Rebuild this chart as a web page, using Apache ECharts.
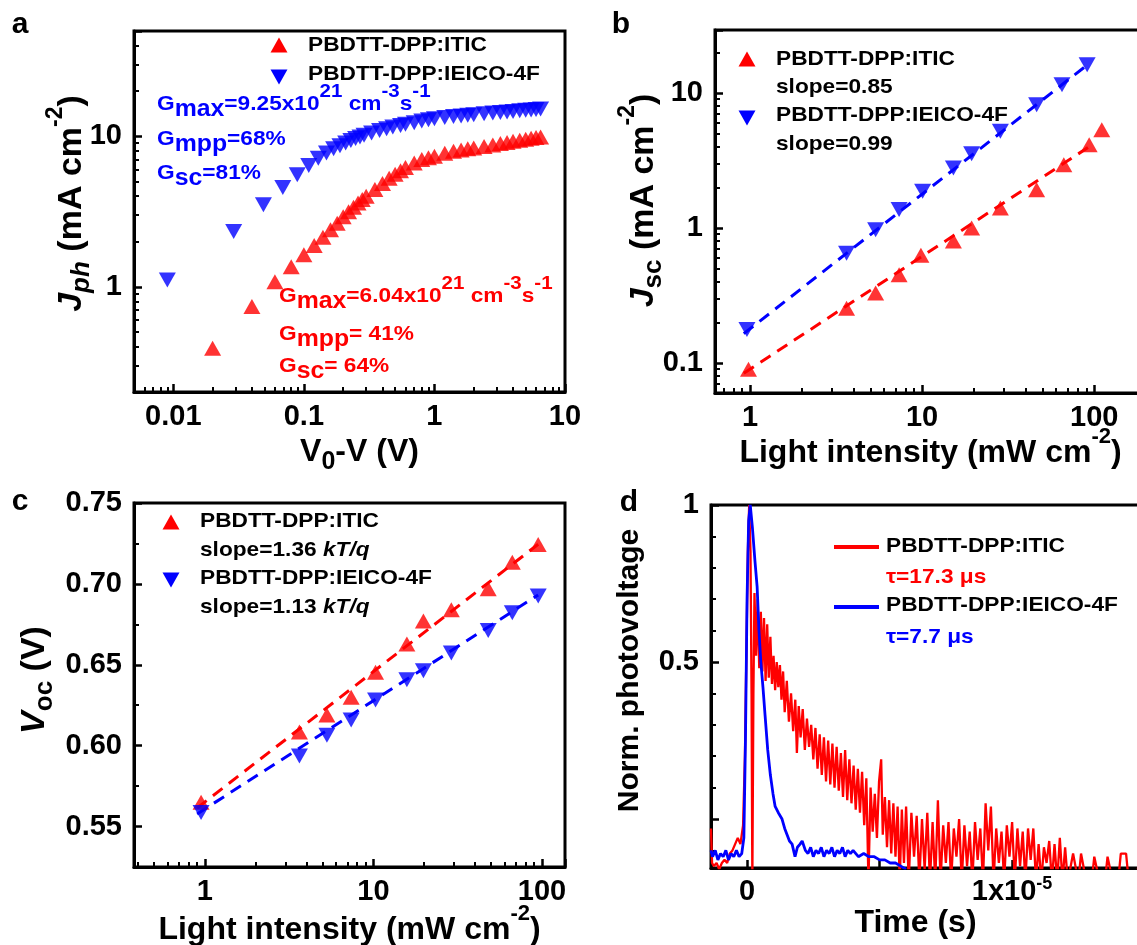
<!DOCTYPE html>
<html>
<head>
<meta charset="utf-8">
<title>PBDTT-DPP devices</title>
<script src="https://cdn.jsdelivr.net/npm/echarts@6/dist/echarts.min.js"></script>
<style>
html, body { margin: 0; padding: 0; background: #fff; }
#main { width: 1137px; height: 945px; }
</style>
</head>
<body>
<div id="main"></div>
<script>
// ---- panel a : Jph vs V0-V ----
var aVoltITIC = [0.02, 0.04, 0.06, 0.08, 0.10, 0.12, 0.14, 0.16, 0.18, 0.20, 0.22, 0.24, 0.26, 0.28, 0.30, 0.35, 0.40, 0.45, 0.50, 0.55,
    0.60, 0.70, 0.80, 0.90, 1.0, 1.2, 1.4, 1.6, 1.8, 2.0, 2.4, 2.8, 3.2, 3.6, 4.0, 4.5, 5.0, 5.5, 6.0, 6.5];
var aJphITIC = [0.39, 0.74, 1.08, 1.36, 1.63, 1.88, 2.13, 2.39, 2.64, 2.92, 3.15, 3.38, 3.6, 3.8, 4.0, 4.42, 4.85, 5.25, 5.6, 5.9,
    6.2, 6.65, 7.0, 7.2, 7.35, 7.7, 7.95, 8.1, 8.25, 8.35, 8.55, 8.75, 8.95, 9.1, 9.25, 9.4, 9.55, 9.7, 9.8, 9.9];
var aVoltIEICO = [0.009, 0.029, 0.049, 0.069, 0.089, 0.109, 0.129, 0.149, 0.169, 0.189, 0.209, 0.229, 0.249, 0.269, 0.289, 0.33, 0.38, 0.43, 0.48, 0.55,
    0.60, 0.70, 0.80, 0.90, 1.0, 1.2, 1.4, 1.6, 1.8, 2.0, 2.4, 2.8, 3.2, 3.6, 4.0, 4.5, 5.0, 5.5, 6.0, 6.5];
var aJphIEICO = [1.11, 2.33, 3.5, 4.57, 5.55, 6.4, 7.15, 7.75, 8.25, 8.65, 9.0, 9.35, 9.65, 9.9, 10.15, 10.5, 10.9, 11.2, 11.5, 11.8,
    12.0, 12.3, 12.6, 12.85, 13.05, 13.3, 13.5, 13.65, 13.8, 13.9, 14.1, 14.25, 14.4, 14.5, 14.6, 14.75, 14.85, 14.95, 15.05, 15.15];

// ---- panel b : Jsc vs light intensity ----
var bIntensityITIC = [0.98, 3.64, 5.37, 7.35, 9.84, 15.2, 19.4, 28.5, 46.3, 66.6, 93.5, 110.7];
var bJscITIC = [0.09, 0.255, 0.33, 0.45, 0.63, 0.80, 1.0, 1.41, 1.92, 2.94, 4.14, 5.35];
var bIntensityIEICO = [0.96, 3.64, 5.37, 7.35, 10.07, 15.2, 19.4, 28.5, 46.3, 65, 91];
var bJscIEICO = [0.177, 0.65, 0.97, 1.37, 1.87, 2.78, 3.55, 5.2, 8.2, 11.5, 16.2];
var bFitX = [0.92, 92];
var bFitITIC = [0.084, 3.95];
var bFitIEICO = [0.165, 16.3];

// ---- panel c : Voc vs light intensity ----
var cIntensity = [0.95, 3.64, 5.3, 7.38, 10.3, 15.8, 19.8, 29, 48, 66.7, 95];
var cVocITIC = [0.565, 0.6085, 0.619, 0.630, 0.6454, 0.6629, 0.677, 0.684, 0.697, 0.7133, 0.7243];
var cVocIEICO = [0.5587, 0.5936, 0.6064, 0.6158, 0.6282, 0.6407, 0.6463, 0.6573, 0.6712, 0.6822, 0.6925];
var cFitX = [0.9, 95];
var cFitITIC = [0.5615, 0.7245];
var cFitIEICO = [0.5578, 0.6932];

// ---- panel d : transient photovoltage (time in microseconds) ----
var dTimeITIC = [-1.36, -1.32, -1.25, -1.15, -1.05, -0.95, -0.85, -0.75, -0.65, -0.55, -0.45, -0.35, -0.25, -0.15, -0.08, -0.03,
    0.03, 0.08, 0.13, 0.17, 0.20, 0.24, 0.28, 0.34, 0.40, 0.46, 0.52, 0.58, 0.64, 0.70, 0.76, 0.82, 0.88, 0.94,
    1.00, 1.06, 1.12, 1.18, 1.24, 1.30, 1.36, 1.42, 1.50, 1.58, 1.66, 1.74, 1.82, 1.88, 1.95,
    2.02, 2.10, 2.18, 2.26, 2.34, 2.42, 2.50, 2.58, 2.66, 2.74, 2.82, 2.90, 2.98,
    3.06, 3.14, 3.22, 3.30, 3.38, 3.46, 3.54, 3.62, 3.70, 3.78, 3.86, 3.94,
    4.02, 4.10, 4.18, 4.26, 4.34, 4.42, 4.50, 4.58, 4.66, 4.74, 4.82, 4.90, 4.98,
    5.06, 5.12, 5.20, 5.28, 5.36, 5.44, 5.52, 5.60, 5.68, 5.76, 5.84, 5.92,
    6.00, 6.10, 6.20, 6.30, 6.40, 6.50, 6.60, 6.70, 6.80, 6.90, 7.00, 7.10, 7.20, 7.30, 7.40, 7.50, 7.60, 7.70, 7.80, 7.90,
    8.00, 8.10, 8.20, 8.30, 8.40, 8.50, 8.60, 8.70, 8.80, 8.90, 9.00, 9.10, 9.20, 9.30, 9.40, 9.50, 9.60, 9.70, 9.80, 9.90,
    10.00, 10.10, 10.20, 10.30, 10.40, 10.50, 10.60, 10.70, 10.80, 10.90, 11.00, 11.10, 11.20, 11.30, 11.40, 11.50, 11.60, 11.70, 11.80, 11.90,
    12.00, 12.10, 12.30, 12.50, 12.60, 12.80, 13.00, 13.10, 13.30, 13.50, 13.60, 13.80, 14.00, 14.10, 14.30, 14.40, 14.70, 14.80, 15.00];
var dVoltITIC = [-0.03, -0.14, -0.15, -0.14, -0.16, -0.14, -0.13, -0.14, -0.11, -0.10, -0.08, -0.06, -0.08, -0.02, 0.20, 0.50,
    0.85, 1.00, 0.85, 0.40, -0.20, 0.40, 0.72, 0.52, 0.70, 0.48, 0.66, 0.47, 0.64, 0.44, 0.62, 0.45, 0.58, 0.43,
    0.52, 0.41, 0.50, 0.42, 0.49, 0.38, 0.47, 0.34, 0.44, 0.31, 0.40, 0.28, 0.38, 0.21, 0.36,
    0.26, 0.35, 0.22, 0.32, 0.23, 0.30, 0.19, 0.29, 0.16, 0.27, 0.14, 0.26, 0.12,
    0.25, 0.11, 0.24, 0.10, 0.23, 0.09, 0.21, 0.07, 0.22, 0.06, 0.19, 0.05,
    0.17, 0.03, 0.16, 0.02, 0.15, -0.02, 0.13, -0.20, 0.10, -0.04, 0.08, -0.06, 0.12,
    0.19, -0.05, 0.07, -0.09, 0.06, -0.11, 0.05, -0.12, 0.04, -0.20, 0.03, -0.14,
    0.04, -0.20, 0.02, -0.12, 0.01, -0.20, 0.00, -0.16, 0.02, -0.20, -0.01, -0.20, 0.06, -0.20, -0.02, -0.14, -0.01, -0.20, -0.03, -0.12,
    0.00, -0.20, -0.02, -0.15, -0.04, -0.20, -0.01, -0.13, -0.03, -0.20, 0.05, -0.10, 0.04, -0.20, -0.03, -0.14, -0.04, -0.20, -0.02, -0.12,
    -0.01, -0.20, -0.03, -0.15, -0.04, -0.20, -0.03, -0.13, -0.03, -0.20, -0.08, -0.20, -0.09, -0.14, -0.07, -0.20, -0.08, -0.20, -0.06, -0.20,
    -0.09, -0.20, -0.11, -0.20, -0.11, -0.20, -0.20, -0.12, -0.20, -0.20, -0.12, -0.20, -0.20, -0.11, -0.11, -0.20, -0.20, -0.11, -0.11];
var dTimeIEICO = [-1.36, -1.30, -1.20, -1.10, -1.00, -0.90, -0.80, -0.70, -0.60, -0.50, -0.40, -0.30, -0.20, -0.12, -0.06,
    0.00, 0.06, 0.12, 0.20, 0.30, 0.38, 0.45, 0.52, 0.60, 0.68, 0.78, 0.88, 0.98, 1.06, 1.18, 1.32, 1.42, 1.51, 1.60, 1.70, 1.81, 1.90,
    2.00, 2.08, 2.20, 2.30, 2.40, 2.50, 2.60, 2.70, 2.80, 2.90, 3.00, 3.10, 3.20, 3.30, 3.40, 3.50, 3.60, 3.70, 3.80, 3.90,
    4.00, 4.20, 4.40, 4.60, 4.80, 5.00, 5.20, 5.40, 5.60, 5.80, 6.00];
var dVoltIEICO = [-0.10, -0.12, -0.10, -0.13, -0.11, -0.12, -0.10, -0.13, -0.11, -0.12, -0.10, -0.12, -0.11, -0.06, 0.25,
    0.70, 0.95, 1.00, 0.93, 0.82, 0.74, 0.60, 0.50, 0.42, 0.33, 0.22, 0.14, 0.08, 0.04, 0.02, 0.00, -0.03, -0.05, -0.07, -0.08, -0.12, -0.09,
    -0.08, -0.07, -0.10, -0.11, -0.09, -0.12, -0.10, -0.11, -0.09, -0.12, -0.10, -0.11, -0.09, -0.12, -0.10, -0.11, -0.09, -0.12, -0.10, -0.11,
    -0.10, -0.12, -0.11, -0.12, -0.12, -0.13, -0.13, -0.14, -0.14, -0.15, -0.16];

var RED = '#ff0000';
var BLUE = '#0000ff';
var FONT = 'Arial';
var STRETCH = 1.08;   // the figure's lettering is a bit wider than Arial

function pairs(xs, ys) {
    return xs.map(function (x, i) { return [x, ys[i]]; });
}

// only label the decades on log axes
function logFmt(v) {
    var e = Math.log10(v);
    var r = Math.round(e);
    if (Math.abs(e - r) > 1e-6) return '';
    return String(+Math.pow(10, r).toPrecision(3));
}

function makeNameRich(size) {
    var sub = Math.round(size * 0.77);
    var sup = Math.round(size * 0.68);
    return {
        n: { fontSize: size, fontWeight: 'bold', fontFamily: FONT, color: '#000', lineHeight: 44 },
        i: { fontSize: size, fontWeight: 'bold', fontStyle: 'italic', fontFamily: FONT, color: '#000', lineHeight: 44 },
        s: { fontSize: sub, fontWeight: 'bold', fontFamily: FONT, color: '#000', lineHeight: 24, height: 24, verticalAlign: 'bottom' },
        si: { fontSize: sub, fontWeight: 'bold', fontStyle: 'italic', fontFamily: FONT, color: '#000', lineHeight: 24, height: 24, verticalAlign: 'bottom' },
        p: { fontSize: sup, fontWeight: 'bold', fontFamily: FONT, color: '#000', lineHeight: 12, height: 12, verticalAlign: 'top' }
    };
}

function axis(grid, type, min, max, opts) {
    var a = {
        gridIndex: grid,
        type: type,
        min: min,
        max: max,
        name: opts.name,
        nameLocation: 'middle',
        nameGap: opts.gap,
        nameRotate: opts.rotate || 0,
        nameMoveOverlap: false,
        nameTextStyle: { rich: makeNameRich(opts.nameSize || 32), padding: opts.pad || 0 },
        axisLine: { show: true, onZero: false, lineStyle: { color: '#000', width: 3 } },
        axisTick: { show: true, inside: true, length: 8, lineStyle: { color: '#000', width: 2.5 } },
        axisLabel: {
            show: true, interval: 0, margin: opts.margin || 10, color: '#000',
            fontSize: 29, fontWeight: 'bold', fontFamily: FONT,
            formatter: opts.fmt || logFmt
        },
        splitLine: { show: false }
    };
    if (opts.splitNumber) a.splitNumber = opts.splitNumber;
    if (opts.minor) {
        a.minorTick = { show: true, splitNumber: opts.minor, length: 5, lineStyle: { color: '#000', width: 2 } };
    }
    if (opts.labelRich) {
        a.axisLabel.rich = opts.labelRich;
        a.axisLabel.lineHeight = 40;
    }
    return a;
}

function scatter(xi, xs, ys, color, down) {
    return {
        type: 'scatter', xAxisIndex: xi, yAxisIndex: xi,
        data: pairs(xs, ys),
        symbol: 'triangle', symbolSize: [17, 15], symbolRotate: down ? 180 : 0,
        itemStyle: { color: color }, z: 3
    };
}

function fitLine(xi, xs, ys, color) {
    return {
        type: 'line', xAxisIndex: xi, yAxisIndex: xi,
        data: pairs(xs, ys), symbol: 'none',
        lineStyle: { color: color, width: 3, type: [12, 8] }, z: 2
    };
}

// annotation text with sub- and superscripts
function annoRich(color) {
    return {
        m: { fontSize: 21, fontWeight: 'bold', fontFamily: FONT, fill: color, lineHeight: 33 },
        mi: { fontSize: 21, fontWeight: 'bold', fontStyle: 'italic', fontFamily: FONT, fill: color, lineHeight: 33 },
        s: { fontSize: 23, fontWeight: 'bold', fontFamily: FONT, fill: color, lineHeight: 21, height: 21, verticalAlign: 'bottom' },
        p: { fontSize: 19, fontWeight: 'bold', fontFamily: FONT, fill: color, lineHeight: 9, height: 9, verticalAlign: 'top' }
    };
}

function txt(x, y, text, color) {
    return {
        type: 'text', x: x, y: y, z: 10, scaleX: STRETCH,
        style: {
            text: text, rich: annoRich(color), fill: color,
            fontSize: 21, fontWeight: 'bold', fontFamily: FONT,
            align: 'left', verticalAlign: 'middle', textAlign: 'left', textVerticalAlign: 'middle'
        }
    };
}

function letter(x, y, t) {
    return {
        type: 'text', x: x, y: y, z: 10,
        style: {
            text: t, fill: '#000', fontSize: 30, fontWeight: 'bold', fontFamily: FONT,
            align: 'center', verticalAlign: 'middle', textAlign: 'center', textVerticalAlign: 'middle'
        }
    };
}

function tri(x, y, color, down) {
    var pts = down ? [[x - 8.5, y - 7.5], [x + 8.5, y - 7.5], [x, y + 7.5]]
                   : [[x - 8.5, y + 7.5], [x + 8.5, y + 7.5], [x, y - 7.5]];
    return { type: 'polygon', z: 10, shape: { points: pts }, style: { fill: color } };
}

function seg(x1, x2, y, color) {
    return { type: 'line', z: 10, shape: { x1: x1, y1: y, x2: x2, y2: y }, style: { stroke: color, lineWidth: 4 } };
}

var option = {
    animation: false,
    backgroundColor: '#fff',
    grid: [
        { left: 134, top: 31, width: 431, height: 361, show: true, borderColor: '#000', borderWidth: 3, outerBoundsMode: 'none' },
        { left: 715, top: 30, width: 431, height: 363, show: true, borderColor: '#000', borderWidth: 3, outerBoundsMode: 'none' },
        { left: 134, top: 503, width: 431, height: 364, show: true, borderColor: '#000', borderWidth: 3, outerBoundsMode: 'none' },
        { left: 711, top: 505, width: 431, height: 363, show: true, borderColor: '#000', borderWidth: 3, outerBoundsMode: 'none' }
    ],
    xAxis: [
        axis(0, 'log', 0.005, 10, { name: '{n|V}{s|0}{n|-V (V)}', gap: 38, pad: [0, 0, 0, 20], minor: 9 }),
        axis(1, 'log', 0.626, 200, { name: '{n|Light intensity (mW cm}{p|-2}{n|)}', gap: 38, minor: 9 }),
        axis(2, 'log', 0.38, 137, { name: '{n|Light intensity (mW cm}{p|-2}{n|)}', gap: 41, minor: 9 }),
        axis(3, 'value', -1.36, 14.9, {
            name: '{n|Time (s)}', gap: 33, pad: [0, 22, 0, 0], splitNumber: 3, margin: 4,
            labelRich: {
                n: { fontSize: 29, fontWeight: 'bold', fontFamily: FONT, color: '#000', lineHeight: 40 },
                p: { fontSize: 18, fontWeight: 'bold', fontFamily: FONT, color: '#000', lineHeight: 24, height: 24, verticalAlign: 'top' }
            },
            fmt: function (v) {
                if (Math.abs(v) < 1e-6) return '{n|0}';
                if (Math.abs(v - 10) < 1e-6) return '{n|1x10}{p|-5}';
                return '';
            }
        })
    ],
    yAxis: [
        axis(0, 'log', 0.2, 50, { name: '{i|J}{si|ph}{n| (mA cm}{p|-2}{n|)}', nameSize: 34, gap: 40, rotate: 90, pad: [0, 0, 0, 16], margin: 12, minor: 9 }),
        axis(1, 'log', 0.06, 29.3, { name: '{i|J}{s|sc}{n| (mA cm}{p|-2}{n|)}', nameSize: 34, gap: 49, rotate: 90, pad: [0, 0, 0, 22], margin: 12, minor: 9 }),
        axis(2, 'value', 0.525, 0.75, {
            name: '{i|V}{s|oc}{n| (V)}', nameSize: 34, gap: 77, rotate: 90, pad: [0, 0, 0, 10], margin: 12, splitNumber: 5, minor: 2,
            fmt: function (v) { return v < 0.53 ? '' : v.toFixed(2); }
        }),
        axis(3, 'value', -0.156, 1, {
            name: '{n|Norm. photovoltage}', nameSize: 30, gap: 59, rotate: 90, pad: [0, 0, 0, 32], margin: 12, splitNumber: 2, minor: 5,
            fmt: function (v) {
                if (Math.abs(v - 0.5) < 1e-6) return '0.5';
                if (Math.abs(v - 1) < 1e-6) return '1';
                return '';
            }
        })
    ],
    series: [
        scatter(0, aVoltIEICO, aJphIEICO, BLUE, true),
        scatter(0, aVoltITIC, aJphITIC, RED, false),

        fitLine(1, bFitX, bFitITIC, RED),
        fitLine(1, bFitX, bFitIEICO, BLUE),
        scatter(1, bIntensityITIC, bJscITIC, RED, false),
        scatter(1, bIntensityIEICO, bJscIEICO, BLUE, true),

        fitLine(2, cFitX, cFitITIC, RED),
        fitLine(2, cFitX, cFitIEICO, BLUE),
        scatter(2, cIntensity, cVocITIC, RED, false),
        scatter(2, cIntensity, cVocIEICO, BLUE, true),

        {
            type: 'line', xAxisIndex: 3, yAxisIndex: 3, data: pairs(dTimeITIC, dVoltITIC),
            symbol: 'none', clip: true, lineStyle: { color: RED, width: 2.3 }, z: 2
        },
        {
            type: 'line', xAxisIndex: 3, yAxisIndex: 3, data: pairs(dTimeIEICO, dVoltIEICO),
            symbol: 'none', clip: true, lineStyle: { color: BLUE, width: 2.8 }, z: 3
        }
    ],
    graphic: [
        letter(20, 25, 'a'), letter(621, 25, 'b'), letter(20, 502, 'c'), letter(629, 503, 'd'),

        // panel a
        tri(279, 45, RED, false), txt(308, 45, 'PBDTT-DPP:ITIC', '#000'),
        tri(279, 77, BLUE, true), txt(308, 74, 'PBDTT-DPP:IEICO-4F', '#000'),
        txt(157, 104, '{m|G}{s|max}{m|=9.25x10}{p|21}{m| cm}{p|-3}{m|s}{p|-1}', BLUE),
        txt(157, 139, '{m|G}{s|mpp}{m|=68%}', BLUE),
        txt(157, 173, '{m|G}{s|sc}{m|=81%}', BLUE),
        txt(279, 296, '{m|G}{s|max}{m|=6.04x10}{p|21}{m| cm}{p|-3}{m|s}{p|-1}', RED),
        txt(279, 334, '{m|G}{s|mpp}{m|= 41%}', RED),
        txt(279, 366, '{m|G}{s|sc}{m|= 64%}', RED),

        // panel b
        tri(747, 59, RED, false), txt(776, 59, 'PBDTT-DPP:ITIC', '#000'),
        txt(776, 87, 'slope=0.85', '#000'),
        tri(747, 118, BLUE, true), txt(776, 115, 'PBDTT-DPP:IEICO-4F', '#000'),
        txt(776, 144, 'slope=0.99', '#000'),

        // panel c
        tri(171, 522, RED, false), txt(200, 521, 'PBDTT-DPP:ITIC', '#000'),
        txt(200, 550, '{m|slope=1.36 }{mi|kT/q}', '#000'),
        tri(171, 580, BLUE, true), txt(200, 578, 'PBDTT-DPP:IEICO-4F', '#000'),
        txt(200, 607, '{m|slope=1.13 }{mi|kT/q}', '#000'),

        // panel d
        seg(834, 879, 547, RED), txt(886, 546, 'PBDTT-DPP:ITIC', '#000'),
        txt(886, 577, '{m|τ=17.3 μs}', RED),
        seg(834, 879, 607, BLUE), txt(886, 605, 'PBDTT-DPP:IEICO-4F', '#000'),
        txt(886, 637, '{m|τ=7.7 μs}', BLUE)
    ]
};

var chart = echarts.init(document.getElementById('main'), null, { renderer: 'canvas' });
chart.setOption(option);
</script>
</body>
</html>
